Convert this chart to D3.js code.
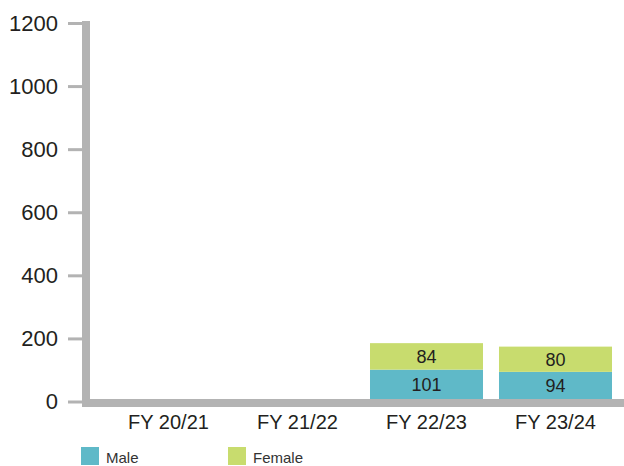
<!DOCTYPE html>
<html>
<head>
<meta charset="utf-8">
<script src="https://cdn.jsdelivr.net/npm/d3@7"></script>
<style>
  html, body { margin: 0; padding: 0; background: #fff; }
  svg { display: block; font-family: "Liberation Sans", Arial, Helvetica, sans-serif; }
</style>
</head>
<body>
<svg id="chart" width="624" height="466"></svg>
<script>
// Headcount by financial year, split by gender
const categories = ["FY 20/21", "FY 21/22", "FY 22/23", "FY 23/24"];
const male = [null, null, 101, 94];
const female = [null, null, 84, 80];
const seriesNames = ["Male", "Female"];
const seriesColors = ["#5fb9c8", "#c8dc6e"];
const yTicks = [0, 200, 400, 600, 800, 1000, 1200];

const svg = d3.select("#chart");
const axisGray = "#b3b3b3";
const textColor = "#231f20";

const x = d3.scaleBand()
  .domain(categories)
  .range([104, 620])
  .paddingInner(0.124)
  .paddingOuter(0.062);

const y = d3.scaleLinear().domain([0, 1200]).range([401.5, 23]);

// Stacked data
const rows = categories.map((c, i) => ({ cat: c, Male: male[i], Female: female[i] }));
const stack = d3.stack().keys(seriesNames).value((d, k) => d[k] || 0);
const layers = stack(rows);

const gBars = svg.append("g");
layers.forEach((layer, li) => {
  layer.forEach((seg, i) => {
    const v = rows[i][seriesNames[li]];
    if (v == null) return;
    gBars.append("rect")
      .attr("x", x(rows[i].cat))
      .attr("width", x.bandwidth())
      .attr("y", y(seg[1]))
      .attr("height", y(seg[0]) - y(seg[1]))
      .attr("fill", seriesColors[li]);
  });
});

// Value labels, centred in the visible part of each segment
const baseVisible = 399;
layers.forEach((layer, li) => {
  layer.forEach((seg, i) => {
    const v = rows[i][seriesNames[li]];
    if (v == null) return;
    const top = y(seg[1]);
    const bottom = Math.min(y(seg[0]), baseVisible);
    gBars.append("text")
      .attr("x", x(rows[i].cat) + x.bandwidth() / 2)
      .attr("y", (top + bottom) / 2)
      .attr("dy", "0.36em")
      .attr("text-anchor", "middle")
      .attr("font-size", 18)
      .attr("fill", textColor)
      .text(v);
  });
});

// Y axis ticks and labels
const yAxis = d3.axisLeft(y)
  .tickValues(yTicks)
  .tickSize(14)
  .tickPadding(10)
  .tickFormat(d3.format("d"));
const gy = svg.append("g").attr("transform", "translate(82,0)").call(yAxis);
gy.select(".domain").remove();
gy.selectAll(".tick line").attr("stroke", axisGray).attr("stroke-width", 3);
gy.selectAll(".tick text")
  .attr("font-size", 22)
  .attr("font-family", "Liberation Sans, Arial, sans-serif")
  .attr("fill", textColor);

// Thick axis lines
svg.append("rect")
  .attr("x", 82).attr("y", 21)
  .attr("width", 8).attr("height", 407 - 21)
  .attr("fill", axisGray);
svg.append("rect")
  .attr("x", 82).attr("y", 399)
  .attr("width", 624 - 82).attr("height", 8)
  .attr("fill", axisGray);

// X axis labels
const xAxis = d3.axisBottom(x).tickSize(0).tickPadding(8);
const gx = svg.append("g").attr("transform", "translate(0,407)").call(xAxis);
gx.select(".domain").remove();
gx.selectAll(".tick text")
  .attr("font-size", 20)
  .attr("font-family", "Liberation Sans, Arial, sans-serif")
  .attr("fill", textColor);

// Legend
const legendX = [81, 228];
const legend = svg.append("g");
seriesNames.forEach((name, i) => {
  legend.append("rect")
    .attr("x", legendX[i]).attr("y", 447)
    .attr("width", 18).attr("height", 18)
    .attr("fill", seriesColors[i]);
  legend.append("text")
    .attr("x", legendX[i] + 25).attr("y", 463)
    .attr("font-size", 15)
    .attr("fill", "#333")
    .text(name);
});
</script>
</body>
</html>
